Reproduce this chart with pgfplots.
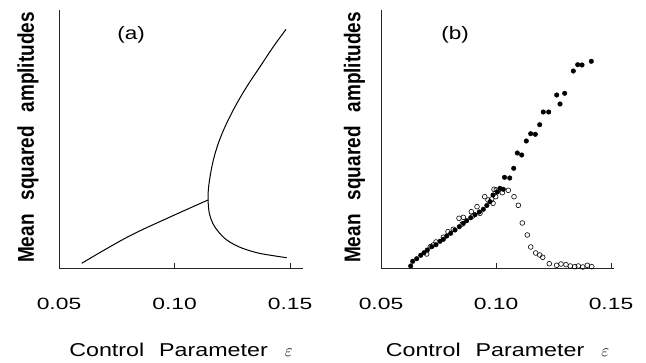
\documentclass[border=0pt]{standalone}
\usepackage{fontspec}
\usepackage{graphicx}
\usepackage{pgfplots}
\pgfplotsset{compat=1.18}
\setmainfont{Liberation Sans}
\newfontfamily\tickfont[FakeStretch=1.4]{Liberation Sans}
\newfontfamily\labfont[FakeStretch=1.25]{Liberation Sans}
\pgfplotsset{
  panel/.style={
    scale only axis, height=258pt, ymin=0, ymax=258,
    axis lines=left, axis line style={-, line width=0.8pt, black!85},
    xmin=0.05,
    xtick={0.05,0.10,0.15}, xticklabels={0.05,0.10,0.15},
    ytick=\empty,
    tick align=inside, major tick length=5pt,
    xtick style={line width=0.8pt, black!85},
    xticklabel style={font=\tickfont\fontsize{16.3}{18}\selectfont, anchor=center, yshift=-36pt},
    xlabel={\labfont Control\hspace{15pt}Parameter\hspace{17pt}$\varepsilon$},
    xlabel style={font=\fontsize{18.6}{20}\selectfont, at={(axis description cs:0.5,-0.318)}, anchor=center},
    ylabel={\scalebox{1}[1.2]{\bfseries Mean\hspace{14pt}squared\hspace{14pt}amplitudes}},
    ylabel style={font=\fontsize{19}{20}\selectfont, anchor=center},
    clip=false,
  }
}
\begin{document}
\begin{tikzpicture}[x=1pt,y=1pt]
\useasboundingbox (0,0) rectangle (646,362);
% ---------------- panel (a)
\begin{axis}[panel, at={(59pt,94pt)}, anchor=south west,
  width=244pt, xmax=0.1556,
  ylabel style={at={(axis description cs:-0.127,0.506)}}]
\addplot[black, line width=1pt, smooth, tension=0.6] coordinates {
 (0.05983,4.7) (0.0700,18.5) (0.0822,34) (0.0995,52.5) (0.1145,68)};
\addplot[black, line width=1pt, smooth, tension=0.55] coordinates {
 (0.14857,10.3) (0.14277,12.3) (0.13558,15.3) (0.12835,20.7) (0.12260,28)
 (0.11896,36.3) (0.11654,44.7) (0.11506,54.7) (0.1145,68) (0.11463,78)
 (0.11537,91.3) (0.11680,108) (0.11896,124.7) (0.12186,141.3) (0.12619,161.3)
 (0.13126,181.3) (0.13701,201.3) (0.14277,221.3) (0.14827,238.7)};
\node[font=\labfont\fontsize{18}{20}\selectfont] at (axis cs:0.0812,233) {(a)};
\end{axis}
% ---------------- panel (b)
\begin{axis}[panel, at={(381pt,94pt)}, anchor=south west,
  width=233pt, xmax=0.1513,
  ylabel style={at={(axis description cs:-0.114,0.506)}}]
\addplot[only marks, mark=*, mark size=2.3pt, black] coordinates {
 (0.06291,2) (0.06378,6.7) (0.06552,9.3) (0.06726,12.7) (0.06870,15.3)
 (0.07013,18) (0.07204,21.3) (0.07391,23.3) (0.07565,26.7) (0.07709,28.7)
 (0.07857,32) (0.08030,34.7) (0.08217,38) (0.08404,41.3) (0.08578,44.7)
 (0.08726,47.3) (0.08900,50.3) (0.09087,53.3) (0.09274,56) (0.09448,58.7)
 (0.09600,62.5) (0.09739,66.3) (0.09870,73) (0.10057,76) (0.10174,79.7)
 (0.10317,78.7) (0.10370,90.7) (0.10596,90) (0.10770,99.7) (0.10926,115)
 (0.11117,113) (0.11317,127) (0.11509,134.3) (0.11709,133.7) (0.11900,143.3)
 (0.12057,156) (0.12291,156) (0.12639,173) (0.12783,164) (0.12987,174.7)
 (0.13361,197) (0.13552,203.3) (0.13739,203) (0.14143,206.7)};
\addplot[only marks, mark=o, mark size=2.4pt, black, mark options={line width=0.6pt}] coordinates {
 (0.06987,14) (0.07143,21.3) (0.07274,23) (0.07391,26) (0.07709,30.7)
 (0.07913,36.3) (0.08143,38.7) (0.08391,49.7) (0.08535,44) (0.08578,50.7)
 (0.08926,56.3) (0.08987,52) (0.09174,61.3) (0.09304,54.7) (0.09509,71.3)
 (0.09652,68) (0.09870,64.7) (0.09813,69) (0.09987,71.3) (0.09913,78.7)
 (0.10013,78) (0.10274,75.3) (0.10535,77.7) (0.10783,71.3) (0.10970,62.7)
 (0.11143,45) (0.11361,33) (0.11509,21) (0.11726,15) (0.11900,13)
 (0.12030,10.7) (0.12317,4.3) (0.12639,2.7) (0.12826,4) (0.13043,3.3)
 (0.13230,2) (0.13422,1.3) (0.13578,2) (0.13770,1) (0.13970,2.7) (0.14161,1.3)};
\node[font=\labfont\fontsize{18}{20}\selectfont] at (axis cs:0.0822,233) {(b)};
\end{axis}
\end{tikzpicture}
\end{document}
